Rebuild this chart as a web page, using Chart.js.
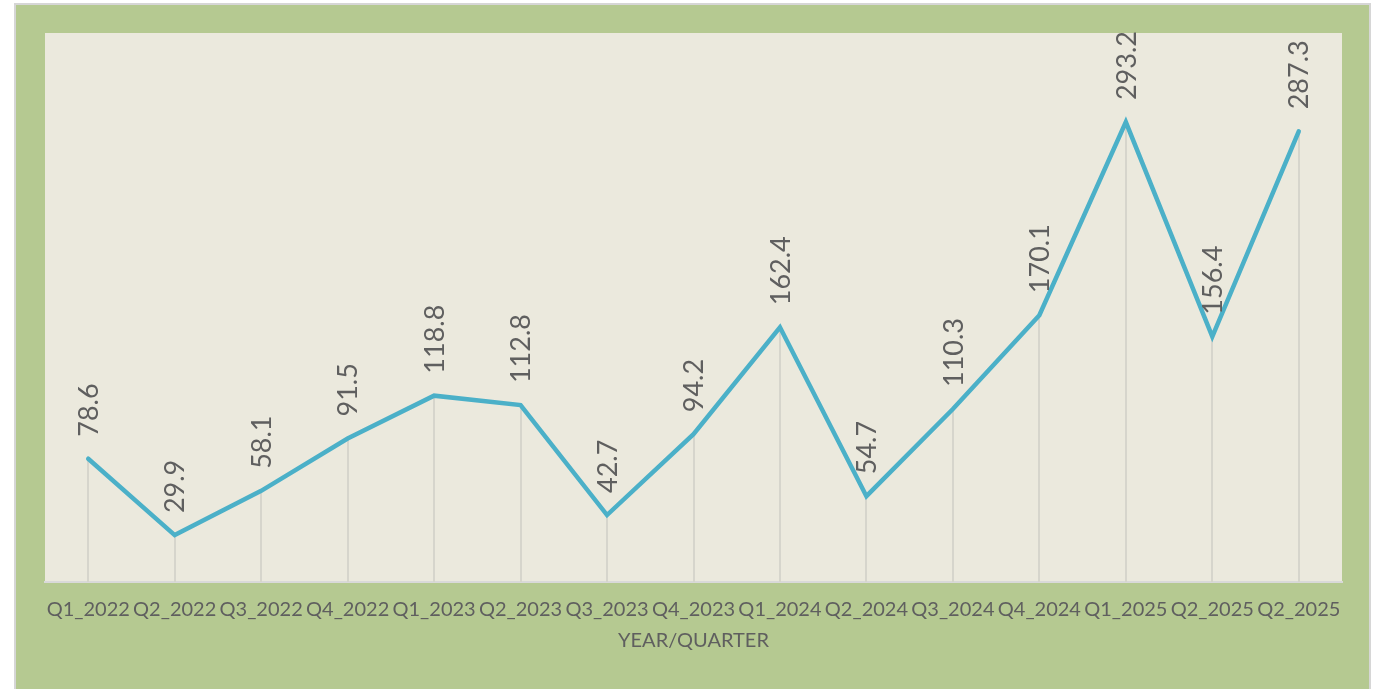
<!DOCTYPE html>
<html><head><meta charset="utf-8">
<script src="https://cdn.jsdelivr.net/npm/chart.js@4"></script>
<style>
html,body{margin:0;padding:0;background:#fff;width:1374px;height:689px;overflow:hidden;}
#frame{position:absolute;left:14px;top:3px;width:1353px;height:700px;border:2px solid #d6d6d6;background:#b5c991;}
#wrap{position:absolute;left:0;top:0;width:1353px;height:684px;}
</style></head>
<body>
<div id="frame"><div id="wrap"><canvas id="c"></canvas></div></div>
<script>
const categories = ["Q1_2022","Q2_2022","Q3_2022","Q4_2022","Q1_2023","Q2_2023","Q3_2023","Q4_2023","Q1_2024","Q2_2024","Q3_2024","Q4_2024","Q1_2025","Q2_2025","Q2_2025"];
const values = [78.6,29.9,58.1,91.5,118.8,112.8,42.7,94.2,162.4,54.7,110.3,170.1,293.2,156.4,287.3];
const axisTitle = "YEAR/QUARTER";
const yMin = 0, yMax = 350;

const textColor = "#5f5f5f";

const plotBg = {
  id: 'plotBg',
  beforeDraw(chart){
    const {ctx, chartArea:a} = chart;
    ctx.save();
    ctx.fillStyle = '#ebe9dd';
    ctx.fillRect(a.left, a.top, a.right-a.left, a.bottom-a.top);
    ctx.restore();
  }
};
const dropLines = {
  id: 'dropLines',
  beforeDatasetsDraw(chart){
    const {ctx, chartArea:a} = chart;
    const meta = chart.getDatasetMeta(0);
    ctx.save();
    ctx.strokeStyle = '#d6d5cc';
    ctx.lineWidth = 2;
    meta.data.forEach(p=>{
      ctx.beginPath();
      ctx.moveTo(Math.round(p.x), p.y);
      ctx.lineTo(Math.round(p.x), a.bottom);
      ctx.stroke();
    });
    ctx.restore();
  }
};
const dataLabels = {
  id: 'dataLabels',
  afterDatasetsDraw(chart){
    const {ctx} = chart;
    const meta = chart.getDatasetMeta(0);
    const ds = chart.data.datasets[0].data;
    ctx.save();
    ctx.fillStyle = textColor;
    ctx.font = '27px Lato';
    ctx.textAlign = 'left';
    ctx.textBaseline = 'middle';
    meta.data.forEach((p,i)=>{
      ctx.save();
      ctx.translate(p.x + 1, p.y - 22);
      ctx.rotate(-Math.PI/2);
      ctx.fillText(ds[i].toFixed(1), 0, 0);
      ctx.restore();
    });
    ctx.restore();
  }
};

new Chart(document.getElementById('c'), {
  type: 'line',
  data: {
    labels: categories,
    datasets: [{
      data: values,
      borderColor: '#4bb0c8',
      borderWidth: 4.5,
      borderCapStyle: 'round',
      borderJoinStyle: 'miter',
      pointRadius: 0,
      tension: 0,
      fill: false
    }]
  },
  options: {
    responsive: true,
    maintainAspectRatio: false,
    animation: false,
    layout: { padding: { left: 29, top: 28, right: 27, bottom: 45 } },
    plugins: { legend: { display: false }, tooltip: { enabled: false } },
    scales: {
      x: {
        offset: true,
        grid: { display: false, drawTicks: false },
        border: { display: true, color: '#d9d9d9', width: 2 },
        ticks: { color: textColor, font: { family: 'Lato', size: 20, lineHeight: 1 }, autoSkip: false, maxRotation: 0, padding: 18 },
        title: { display: true, text: axisTitle, color: textColor, font: { family: 'Lato', size: 20, lineHeight: 0.3 }, padding: { top: 0, bottom: 0 } }
      },
      y: { display: false, min: yMin, max: yMax }
    }
  },
  plugins: [plotBg, dropLines, dataLabels]
});
</script>
</body></html>
